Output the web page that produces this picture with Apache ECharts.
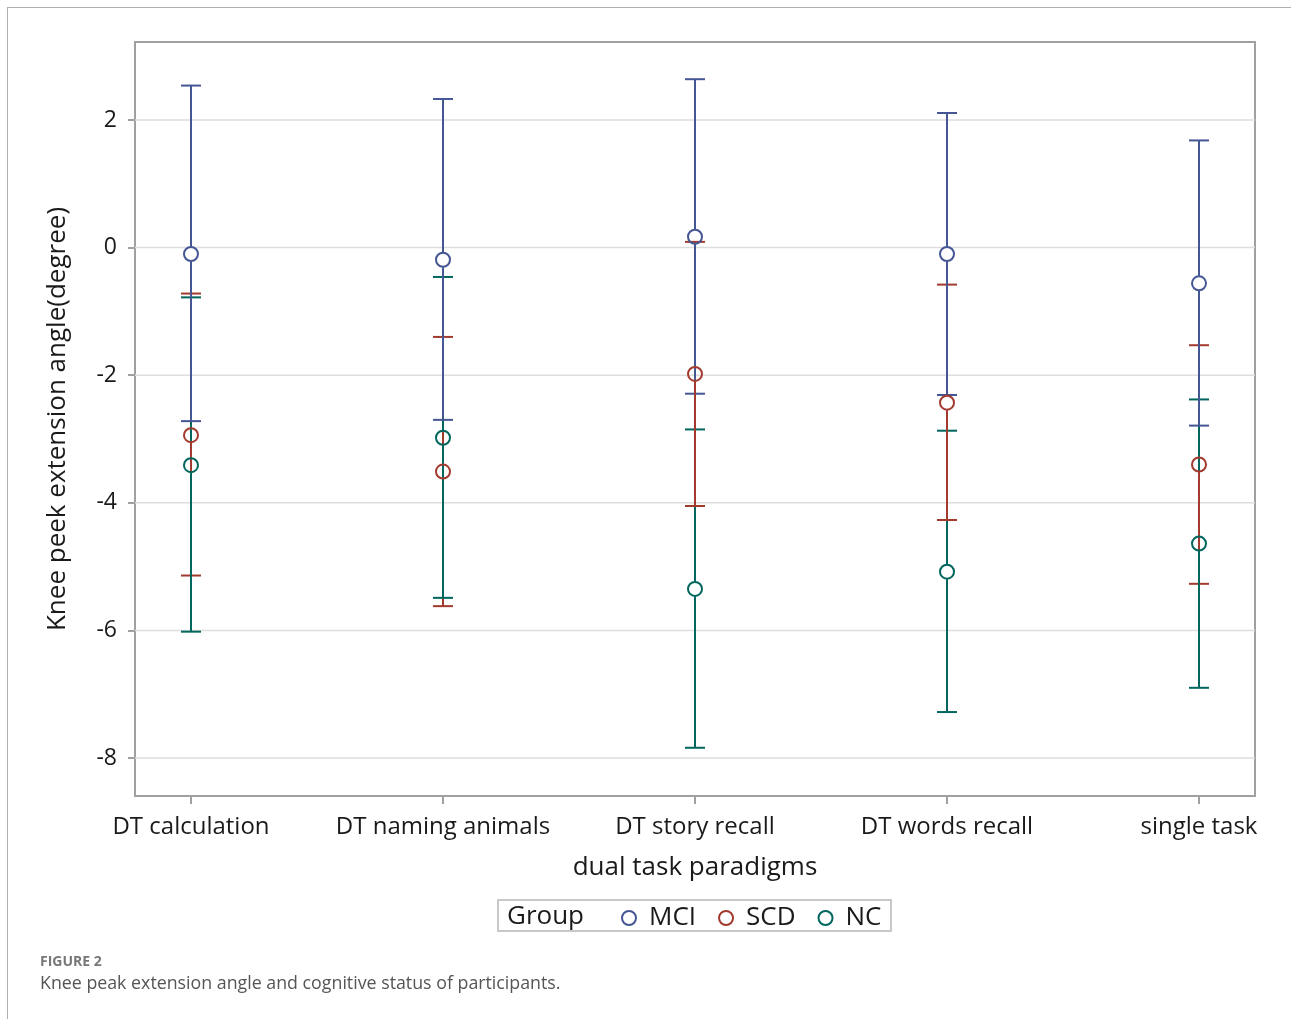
<!DOCTYPE html>
<html>
<head>
<meta charset="utf-8">
<script src="https://cdn.jsdelivr.net/npm/echarts@6/dist/echarts.min.js"></script>
<style>
html,body{margin:0;padding:0;background:#fff;}
#chart{width:1291px;height:1019px;}
</style>
</head>
<body>
<div id="chart"></div>
<script>
const categories = ['DT calculation','DT naming animals','DT story recall','DT words recall','single task'];
const yTicks = [-8,-6,-4,-2,0,2];
const groups = ['MCI','SCD','NC'];

const mciMean = [-0.10, -0.19, 0.17, -0.10, -0.56];
const mciLow  = [-2.72, -2.70, -2.29, -2.31, -2.79];
const mciHigh = [2.54, 2.33, 2.64, 2.11, 1.68];

const scdMean = [-2.94, -3.51, -1.98, -2.43, -3.40];
const scdLow  = [-5.14, -5.62, -4.05, -4.27, -5.27];
const scdHigh = [-0.72, -1.40, 0.09, -0.58, -1.53];

const ncMean = [-3.41, -2.98, -5.35, -5.08, -4.64];
const ncLow  = [-6.02, -5.49, -7.84, -7.28, -6.90];
const ncHigh = [-0.78, -0.46, -2.85, -2.87, -2.38];

const colors = {MCI:'#445694', SCD:'#A23A2E', NC:'#01665E'};
const seriesData = {
  MCI: {mean: mciMean, low: mciLow, high: mciHigh},
  SCD: {mean: scdMean, low: scdLow, high: scdHigh},
  NC:  {mean: ncMean,  low: ncLow,  high: ncHigh}
};

const R = 7.5;
function makeBar(group, part) {
  const d = seriesData[group];
  const data = categories.map((c, i) => [i, d.mean[i], part === 'up' ? d.high[i] : d.low[i]]);
  return {
    type: 'custom',
    name: group + '-' + part,
    silent: true,
    z: 3,
    data: data,
    encode: {x: 0, y: [1, 2]},
    renderItem: function (params, api) {
      const x = api.value(0);
      const pm = api.coord([x, api.value(1)]);
      const pe = api.coord([x, api.value(2)]);
      const dir = pe[1] < pm[1] ? -1 : 1;
      const startY = pm[1] + dir * R;
      const style = {stroke: colors[group], lineWidth: 2, fill: null};
      return {
        type: 'group',
        children: [
          {type: 'line', shape: {x1: pm[0], y1: startY, x2: pe[0], y2: pe[1]}, style: style},
          {type: 'line', shape: {x1: pe[0] - 10, y1: pe[1], x2: pe[0] + 10, y2: pe[1]}, style: style}
        ]
      };
    }
  };
}

const series = [];
series.push({
  type: 'custom',
  name: 'gridlines',
  silent: true,
  z: 1,
  data: yTicks.map(v => [0, v]),
  encode: {x: 0, y: 1},
  renderItem: function (params, api) {
    const cs = params.coordSys;
    const p = api.coord([0, api.value(1)]);
    return {type: 'line', shape: {x1: cs.x, y1: p[1], x2: cs.x + cs.width, y2: p[1]}, style: {stroke: '#dddddd', lineWidth: 1.5}};
  }
});
groups.forEach(g => series.push(makeBar(g, 'up')));
groups.forEach(g => series.push(makeBar(g, 'low')));
groups.forEach(g => {
  series.push({
    type: 'scatter',
    name: g,
    z: 4,
    symbol: 'circle',
    symbolSize: 14,
    itemStyle: {color: 'rgba(255,255,255,0)', borderColor: colors[g], borderWidth: 2, opacity: 1},
    emphasis: {disabled: true},
    data: categories.map((c, i) => [i, seriesData[g].mean[i]])
  });
});

const FONT = 'Open Sans';
const chart = echarts.init(document.getElementById('chart'));
chart.setOption({
  backgroundColor: '#fff',
  animation: false,
  textStyle: {fontFamily: FONT},
  grid: {left: 135, right: 36, top: 42, bottom: 223, show: true, borderColor: '#a0a0a0', borderWidth: 2, backgroundColor: 'transparent', outerBoundsMode: 'none'},
  xAxis: {
    type: 'value',
    position: 'bottom',
    min: -0.2222, max: 4.2222,
    axisLine: {show: false, onZero: false},
    splitLine: {show: false},
    axisTick: {show: true, customValues: [0,1,2,3,4], length: 8, lineStyle: {color: '#a0a0a0', width: 2}},
    axisLabel: {customValues: [0,1,2,3,4], formatter: v => categories[Math.round(v)], fontSize: 24, color: '#1a1a1a', margin: 19, fontFamily: FONT},
    name: 'dual task paradigms',
    nameLocation: 'middle',
    nameGap: 59,
    nameTextStyle: {fontSize: 26, color: '#1a1a1a', fontFamily: FONT}
  },
  yAxis: {
    type: 'value',
    position: 'left',
    min: -8.596, max: 3.223,
    axisLine: {show: false, onZero: false},
    splitLine: {show: false},
    axisTick: {show: true, customValues: yTicks, length: 7, lineStyle: {color: '#a0a0a0', width: 2}},
    axisLabel: {customValues: yTicks, fontSize: 23, color: '#1a1a1a', margin: 18, fontFamily: FONT},
    name: 'Knee peek extension angle(degree)',
    nameLocation: 'middle',
    nameGap: 64,
    nameTextStyle: {fontSize: 26, color: '#1a1a1a', fontFamily: FONT}
  },
  legend: {
    left: 616, top: 900,
    itemWidth: 14, itemHeight: 14, itemGap: 22,
    icon: 'circle',
    textStyle: {fontSize: 26, color: '#1a1a1a', fontFamily: FONT, padding: [0,0,0,8]},
    selectedMode: false,
    data: groups.map(g => ({name: g, itemStyle: {color: 'rgba(255,255,255,0)', borderColor: colors[g], borderWidth: 2, opacity: 1}}))
  },
  graphic: [
    {type: 'line', shape: {x1: 7, y1: 7.5, x2: 1291, y2: 7.5}, style: {stroke: '#b0b0b0', lineWidth: 1}},
    {type: 'line', shape: {x1: 7.5, y1: 7, x2: 7.5, y2: 1019}, style: {stroke: '#b0b0b0', lineWidth: 1}},
    {type: 'rect', shape: {x: 498, y: 900, width: 393, height: 31}, style: {fill: null, stroke: '#c8c8c8', lineWidth: 2}},
    {type: 'text', style: {x: 507, y: 917, text: 'Group', font: '26px "Open Sans"', fill: '#1a1a1a', verticalAlign: 'middle'}},
    {type: 'text', left: 40, top: 955, style: {text: 'FIGURE 2', font: 'bold 14px "Open Sans"', fill: '#777777'}},
    {type: 'text', left: 40, top: 975, style: {text: 'Knee peak extension angle and cognitive status of participants.', font: '17.8px "Open Sans"', fill: '#555555'}}
  ],
  series: series
});
</script>
</body>
</html>
